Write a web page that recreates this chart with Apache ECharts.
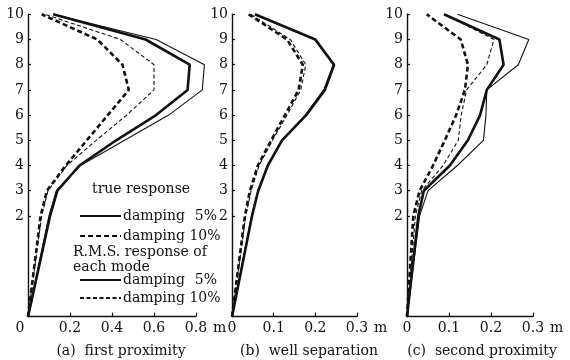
<!DOCTYPE html>
<html><head><meta charset="utf-8">
<script src="https://cdn.jsdelivr.net/npm/echarts@6/dist/echarts.min.js"></script>
<style>html,body{margin:0;padding:0;background:#fff}#c{width:570px;height:360px}</style>
</head><body><div id="c"></div>
<script>
// floors of the building (floor 1 is not labelled on the original)
const floors = [0, 2, 3, 4, 5, 6, 7, 8, 9, 10];
const floorTicks = [2, 3, 4, 5, 6, 7, 8, 9, 10];

// (a) first proximity
const aTrue5  = [0, 0.105, 0.14, 0.245, 0.42, 0.61, 0.76, 0.77, 0.56, 0.12];
const aTrue10 = [0, 0.06, 0.09, 0.18, 0.28, 0.38, 0.48, 0.45, 0.33, 0.065];
const aRms5   = [0, 0.10, 0.135, 0.25, 0.46, 0.67, 0.83, 0.84, 0.61, 0.12];
const aRms10  = [0, 0.065, 0.095, 0.185, 0.325, 0.47, 0.60, 0.60, 0.44, 0.08];
// (b) well separation
const bTrue5  = [0, 0.048, 0.063, 0.086, 0.12, 0.178, 0.223, 0.245, 0.20, 0.055];
const bTrue10 = [0, 0.031, 0.043, 0.062, 0.094, 0.127, 0.16, 0.17, 0.132, 0.04];
const bRms5   = [0, 0.047, 0.062, 0.086, 0.12, 0.176, 0.22, 0.243, 0.198, 0.055];
const bRms10  = [0, 0.033, 0.046, 0.065, 0.097, 0.132, 0.165, 0.177, 0.14, 0.045];
// (c) second proximity
const cTrue5  = [0, 0.027, 0.04, 0.102, 0.145, 0.174, 0.19, 0.23, 0.22, 0.088];
const cTrue10 = [0, 0.015, 0.03, 0.062, 0.09, 0.117, 0.138, 0.145, 0.128, 0.047];
const cRms5   = [0, 0.03, 0.05, 0.12, 0.182, 0.188, 0.19, 0.265, 0.29, 0.12];
const cRms10  = [0, 0.02, 0.035, 0.086, 0.122, 0.129, 0.142, 0.19, 0.207, 0.09];

const aTicks = [0, 0.2, 0.4, 0.6, 0.8];
const bcTicks = [0, 0.1, 0.2, 0.3];
const captions = ['(a)  first proximity', '(b)  well separation', '(c)  second proximity'];
const legendNames = {'true 5%': 'damping\u2002\u20095%', 'true 10%': 'damping 10%', 'rms 5%': 'damping\u2002\u20095%', 'rms 10%': 'damping 10%'};

// the first storey is drawn taller: floor f sits at height f+2 (f>=2)
const toH = f => f === 0 ? 0 : f + 2;

const FONT = 'DejaVu Serif';
const chart = echarts.init(document.getElementById('c'));

// panel (a): the scale reaches a little past the last tick so the widest curve fits
const xMax = [0.85, 0.3, 0.3];
const axisEnd = [0.8, 0.3, 0.3];
const grids = [
  {left: 28, width: 178.5, top: 14.3, bottom: 43.3},
  {left: 232, width: 125, top: 14.3, bottom: 43.3},
  {left: 407, width: 126, top: 14.3, bottom: 43.3}
];
const xTicks = [aTicks, bcTicks, bcTicks];
const nameGaps = [0, 13, 10];

const xAxes = grids.map((g, i) => ({
  type: 'value', gridIndex: i, min: 0, max: xMax[i],
  axisLine: {show: false}, splitLine: {show: false},
  axisTick: {inside: true, length: 4, customValues: xTicks[i], lineStyle: {color: '#111', width: 1.2}},
  axisLabel: {customValues: xTicks[i], color: '#111', fontFamily: FONT, fontSize: 14, margin: 5,
    formatter: v => (i === 0 && v === 0) ? '{z|0}' : String(v),
    rich: {z: {fontFamily: FONT, fontSize: 14, color: '#111', padding: [0, 16, 0, 0]}}},
  name: 'm', nameLocation: 'end', nameGap: nameGaps[i],
  nameTextStyle: {color: '#111', fontFamily: FONT, fontSize: 14, verticalAlign: 'top', padding: [5, 0, 0, 0]}
}));
const yAxes = grids.map((g, i) => ({
  type: 'value', gridIndex: i, min: 0, max: 12,
  axisLine: {lineStyle: {color: '#111', width: 1.4}}, splitLine: {show: false},
  axisTick: {inside: true, length: 3, customValues: floorTicks.map(toH), lineStyle: {color: '#111', width: 1.2}},
  axisLabel: {customValues: floorTicks.map(toH), color: '#111', fontFamily: FONT, fontSize: 14, margin: 4,
    formatter: v => String(v - 2)}
}));

function mk(name, vals, idx, thick, dashed) {
  return {
    name: name, type: 'line', xAxisIndex: idx, yAxisIndex: idx, symbol: 'none', silent: true, clip: false,
    data: vals.map((v, k) => [v, toH(floors[k])]),
    lineStyle: {color: '#111', width: thick ? 2.6 : 1.1,
      type: dashed ? (thick ? [5, 3] : [4, 2.5]) : 'solid'},
    itemStyle: {color: '#111'}
  };
}
const series = [];
const sets = [[aRms5, aRms10, aTrue5, aTrue10], [bRms5, bRms10, bTrue5, bTrue10], [cRms5, cRms10, cTrue5, cTrue10]];
sets.forEach((s, i) => {
  series.push(mk('rms 5%', s[0], i, false, false), mk('rms 10%', s[1], i, false, true),
              mk('true 5%', s[2], i, true, false), mk('true 10%', s[3], i, true, true));
  // horizontal axis line, from 0 to the last tick
  series[series.length - 1].markLine = {
    silent: true, symbol: 'none', label: {show: false},
    lineStyle: {color: '#111', width: 1.4, type: 'solid'},
    data: [[{coord: [0, 0]}, {coord: [axisEnd[i], 0]}]]
  };
});

const legendText = {color: '#111', fontFamily: FONT, fontSize: 14, padding: [0, 0, 0, -3]};
chart.setOption({
  animation: false,
  backgroundColor: '#fff',
  grid: grids,
  xAxis: xAxes,
  yAxis: yAxes,
  series: series,
  title: captions.map((t, i) => ({
    text: t, left: [116, 304, 477][i], top: 339, textAlign: 'center',
    textStyle: {color: '#111', fontFamily: FONT, fontSize: 14, fontWeight: 'normal'}
  })),
  legend: [
    {data: ['true 5%', 'true 10%'], orient: 'vertical', left: 79, top: 209, itemWidth: 41, itemHeight: 14,
     itemGap: 6, selectedMode: false, formatter: n => legendNames[n], textStyle: legendText, padding: 0,
     itemStyle: {opacity: 0}},
    {data: ['rms 5%', 'rms 10%'], orient: 'vertical', left: 79, top: 273, itemWidth: 41, itemHeight: 14,
     itemGap: 4, selectedMode: false, formatter: n => legendNames[n], textStyle: legendText, padding: 0,
     itemStyle: {opacity: 0}}
  ],
  graphic: [
    {type: 'text', left: 92, top: 182, style: {text: 'true response', fill: '#111', font: '14px "DejaVu Serif"'}},
    {type: 'text', left: 73, top: 245, style: {text: 'R.M.S. response of', fill: '#111', font: '14px "DejaVu Serif"'}},
    {type: 'text', left: 73, top: 260, style: {text: 'each mode', fill: '#111', font: '14px "DejaVu Serif"'}}
  ]
});
</script></body></html>
